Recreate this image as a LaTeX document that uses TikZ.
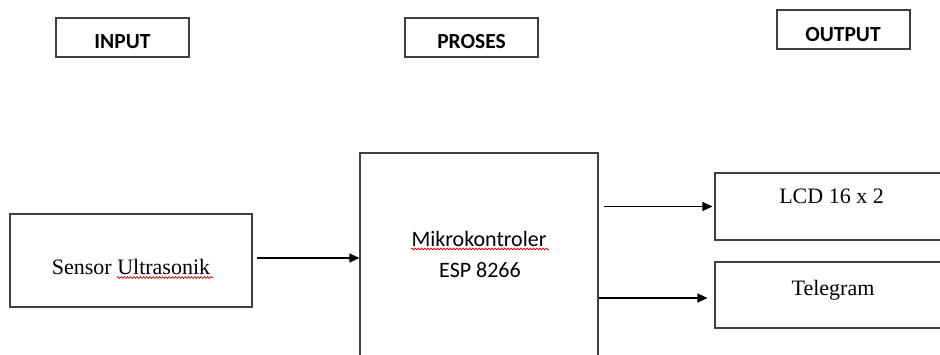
\documentclass[tikz,border=0pt]{standalone}
\usepackage{fontspec}
\setmainfont{Liberation Serif}
\newfontfamily\calibri{Carlito}
\usetikzlibrary{arrows.meta,decorations.pathmorphing}
\begin{document}
\begin{tikzpicture}[x=1pt,y=-1pt,
  boxline/.style={draw=black!75,line width=1.1pt,inner sep=0pt,rectangle},
  headtext/.style={font=\calibri\bfseries\fontsize{21.5}{26}\selectfont,anchor=base,inner sep=0pt},
  serif/.style={font=\fontsize{22}{26}\selectfont,anchor=base,inner sep=0pt},
  sanstext/.style={font=\calibri\fontsize{22}{26}\selectfont,anchor=base,inner sep=0pt},
  flow/.style={draw=black,line width=1.1pt,-{Triangle[length=10pt,width=9pt]}},
  squiggle/.style={draw=red!85!black,line width=0.7pt,decorate,decoration={snake,amplitude=0.9pt,segment length=3.2pt}}]
\useasboundingbox (0,0) rectangle (940,354);
\clip (0,0) rectangle (940,354);
\fill[white] (0,0) rectangle (940,354);
% heading boxes
\node[boxline,minimum width=133pt,minimum height=39pt] (inputbox) at (122.5,37.5) {};
\node[boxline,minimum width=133pt,minimum height=39pt] (prosesbox) at (471.5,37.5) {};
\node[boxline,minimum width=133pt,minimum height=39pt] (outputbox) at (843.5,29.5) {};
\node[headtext] (inputtext) at (122.5,48) {INPUT};
\node[headtext] (prosestext) at (471.5,48) {PROSES};
\node[headtext] (outputtext) at (843,41) {OUTPUT};
% main boxes
\node[boxline,minimum width=242pt,minimum height=93pt] (sensor) at (131,260.5) {};
\node[boxline,minimum width=238pt,minimum height=227pt] (mikro) at (479,266.5) {};
\node[boxline,minimum width=245pt,minimum height=67pt] (lcd) at (837.5,206.5) {};
\node[boxline,minimum width=245pt,minimum height=66pt] (tele) at (837.5,295) {};
% texts
\node[serif] (sensortext) at (131,274) {Sensor Ultrasonik};
\node[sanstext] (mikrotext) at (479,246) {Mikrokontroler};
\node[sanstext] (esptext) at (480,277) {ESP 8266};
\node[serif] (lcdtext) at (831.5,203) {LCD 16 x 2};
\node[serif] (teletext) at (833,295) {Telegram};
% spell-check squiggles
\coordinate (sq1a) at (117,277.5);
\coordinate (sq1b) at (213,277.5);
\coordinate (sq2a) at (411,249);
\coordinate (sq2b) at (549,249);
\draw[squiggle] (sq1a) -- (sq1b);
\draw[squiggle] (sq2a) -- (sq2b);
% connectors
\draw[flow] ([xshift=4pt,yshift=2.5pt]sensor.east) -- ([yshift=2.5pt]sensor.east -| mikro.west);
\draw[flow] ([xshift=5pt]mikro.east |- lcd.west) -- ([xshift=-2pt]lcd.west);
\draw[flow] ([yshift=-3pt]mikro.east |- tele.west) -- ([xshift=-7pt,yshift=-3pt]tele.west);
\end{tikzpicture}
\end{document}
